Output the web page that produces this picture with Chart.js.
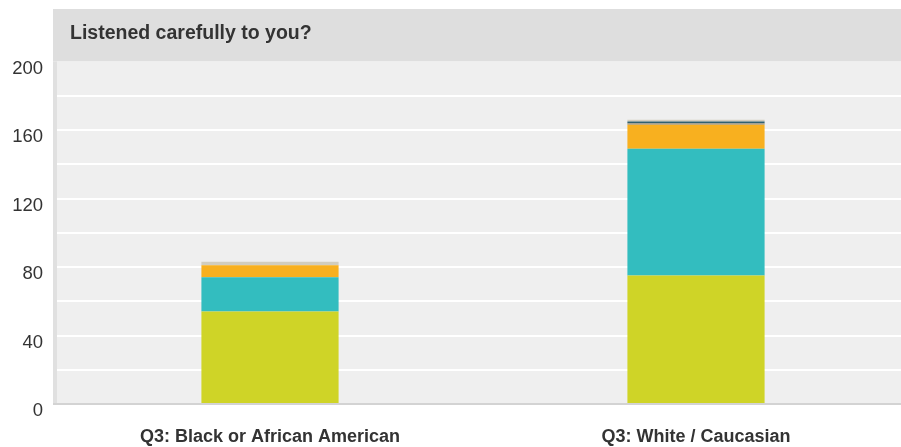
<!DOCTYPE html>
<html>
<head>
<meta charset="utf-8">
<script src="https://cdn.jsdelivr.net/npm/chart.js@4/dist/chart.umd.min.js"></script>
<style>
  html, body { margin: 0; padding: 0; background: #fff; overflow: hidden; }
  #wrap { width: 909px; height: 447px; position: relative; }
</style>
</head>
<body>
<div id="wrap"><canvas id="chart"></canvas></div>
<script>
const chartTitle = 'Listened carefully to you?'
const categories = ['Q3: Black or African American', 'Q3: White / Caucasian']
const yTickLabels = [0, 40, 80, 120, 160, 200]

const always = [54, 75]
const usually = [20, 74]
const sometimes = [7, 14]
const never = [0, 1]
const noAnswer = [0, 1]
const other = [2, 1]

const seriesNames = ['Always', 'Usually', 'Sometimes', 'Never', 'No answer', 'Other']
const seriesColors = ['#cfd427', '#33bdbf', '#f8b01f', '#9b9580', '#2f6170', '#d1cdbf']

const fontFamily = '"Liberation Sans", Arial, sans-serif'

const panelPlugin = {
  id: 'panel',
  beforeDraw: (chart) => {
    const { ctx, chartArea } = chart
    const { left, right, top, bottom } = chartArea
    ctx.save()
    // header band
    ctx.fillStyle = '#dedede'
    ctx.fillRect(left - 4, top - 52.5, right - left + 4, 52.5)
    // plot background
    ctx.fillStyle = '#efefef'
    ctx.fillRect(left, top, right - left, bottom - top)
    // left strip
    ctx.fillStyle = '#e0e0e0'
    ctx.fillRect(left - 4, top, 4, bottom - top + 1)
    // bottom line
    ctx.fillStyle = '#d3d3d3'
    ctx.fillRect(left - 4, bottom - 1, right - left + 4, 2)
    // title
    ctx.fillStyle = '#333'
    ctx.font = `bold 19.5px ${fontFamily}`
    ctx.textBaseline = 'middle'
    ctx.textAlign = 'left'
    ctx.fillText(chartTitle, left + 13, top - 28)
    ctx.restore()
  }
}

const values = [always, usually, sometimes, never, noAnswer, other]

new Chart(document.getElementById('chart'), {
  type: 'bar',
  data: {
    labels: categories,
    datasets: values.map((v, i) => ({
      label: seriesNames[i],
      data: v,
      backgroundColor: seriesColors[i],
      borderWidth: 0,
      categoryPercentage: 1,
      barPercentage: 0.322
    }))
  },
  options: {
    responsive: true,
    maintainAspectRatio: false,
    animation: false,
    layout: { padding: { top: 61.5, left: 0, right: 0, bottom: 0 } },
    plugins: {
      legend: { display: false },
      tooltip: { enabled: false }
    },
    scales: {
      x: {
        stacked: true,
        grid: { display: false, drawTicks: false },
        border: { display: false },
        ticks: {
          padding: 22,
          color: '#333',
          font: { family: fontFamily, size: 18, weight: 'bold' }
        },
        afterFit: (scale) => { scale.height = 43 }
      },
      y: {
        stacked: true,
        min: 0,
        max: 200,
        grid: {
          drawTicks: false,
          lineWidth: 2,
          color: (c) => (c.tick && (c.tick.value === 0 || c.tick.value === 200)) ? 'rgba(0,0,0,0)' : '#ffffff'
        },
        border: { display: false },
        ticks: {
          stepSize: 20,
          autoSkip: false,
          padding: 14,
          labelOffset: 7,
          color: '#333',
          font: { family: fontFamily, size: 18.5 },
          callback: (value) => yTickLabels.includes(value) ? value : ''
        },
        afterFit: (scale) => { scale.width = 57 }
      }
    }
  },
  plugins: [panelPlugin]
})
</script>
</body>
</html>
